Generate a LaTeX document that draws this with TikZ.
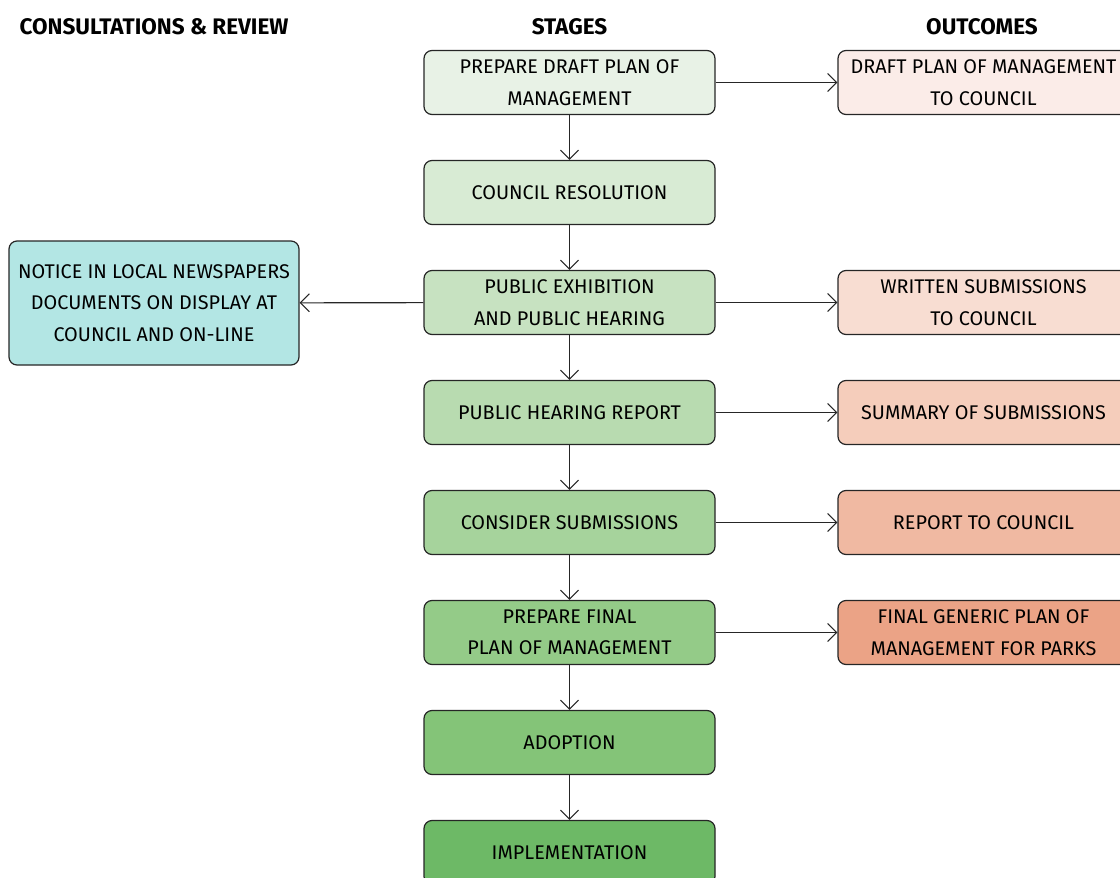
\documentclass[tikz,border=0pt]{standalone}
\usepackage{fontspec}
\setmainfont{Fira Sans}
\usetikzlibrary{arrows.meta}
\definecolor{sA}{HTML}{E8F2E6}
\definecolor{sB}{HTML}{D8EBD4}
\definecolor{sC}{HTML}{C7E2C1}
\definecolor{sD}{HTML}{B8DBB0}
\definecolor{sE}{HTML}{A6D39C}
\definecolor{sF}{HTML}{94CB88}
\definecolor{sG}{HTML}{84C478}
\definecolor{sH}{HTML}{6DB966}
\definecolor{oA}{HTML}{FBECE8}
\definecolor{oB}{HTML}{F8DDD2}
\definecolor{oC}{HTML}{F5CDBB}
\definecolor{oD}{HTML}{F0B9A2}
\definecolor{oE}{HTML}{EBA386}
\definecolor{cyanbox}{HTML}{B3E6E4}
\begin{document}
\begin{tikzpicture}[x=1pt,y=-1pt,
  box/.style={draw=black!85, line width=1.2pt, rounded corners=8pt, minimum width=291pt, minimum height=64pt, align=center, font=\fontsize{19.8}{31.5}\selectfont, inner sep=0pt},
  head/.style={font=\bfseries\fontsize{22.5}{24}\selectfont, inner sep=0pt},
  arr/.style={-{Straight Barb[length=9pt,width=18pt]}, line width=1.1pt, draw=black!85}]
\useasboundingbox (0,0) rectangle (1120,878);
\clip (0,0) rectangle (1120,878);
\node[head] (h1) at (154,27) {CONSULTATIONS \& REVIEW};
\node[head] (h2) at (569.5,27) {STAGES};
\node[head] (h3) at (982,27) {OUTCOMES};
\node[box, fill=sA] (s1) at (569.5,82.5) {PREPARE DRAFT PLAN OF\\MANAGEMENT};
\node[box, fill=sB] (s2) at (569.5,192.5) {COUNCIL RESOLUTION};
\node[box, fill=sC] (s3) at (569.5,302.5) {PUBLIC EXHIBITION\\AND PUBLIC HEARING};
\node[box, fill=sD] (s4) at (569.5,412.5) {PUBLIC HEARING REPORT};
\node[box, fill=sE] (s5) at (569.5,522.5) {CONSIDER SUBMISSIONS};
\node[box, fill=sF] (s6) at (569.5,632.5) {PREPARE FINAL\\PLAN OF MANAGEMENT};
\node[box, fill=sG] (s7) at (569.5,742.5) {ADOPTION};
\node[box, fill=sH] (s8) at (569.5,852.5) {IMPLEMENTATION};
\node[box, fill=oA] (o1) at (983.5,82.5) {DRAFT PLAN OF MANAGEMENT\\TO COUNCIL};
\node[box, fill=oB] (o3) at (983.5,302.5) {WRITTEN SUBMISSIONS\\TO COUNCIL};
\node[box, fill=oC] (o4) at (983.5,412.5) {SUMMARY OF SUBMISSIONS};
\node[box, fill=oD] (o5) at (983.5,522.5) {REPORT TO COUNCIL};
\node[box, fill=oE] (o6) at (983.5,632.5) {FINAL GENERIC PLAN OF\\MANAGEMENT FOR PARKS};
\node[box, fill=cyanbox, minimum width=290pt, minimum height=124pt] (n) at (154,303) {NOTICE IN LOCAL NEWSPAPERS\\DOCUMENTS ON DISPLAY AT\\COUNCIL AND ON-LINE};
\foreach \a/\b in {s1/s2,s2/s3,s3/s4,s4/s5,s5/s6,s6/s7,s7/s8}
  \draw[arr] (\a) -- (\b);
\foreach \a/\b in {s1/o1,s3/o3,s4/o4,s5/o5,s6/o6}
  \draw[arr] (\a) -- (\b);
\draw[arr] (s3) -- (n);
\end{tikzpicture}
\end{document}
